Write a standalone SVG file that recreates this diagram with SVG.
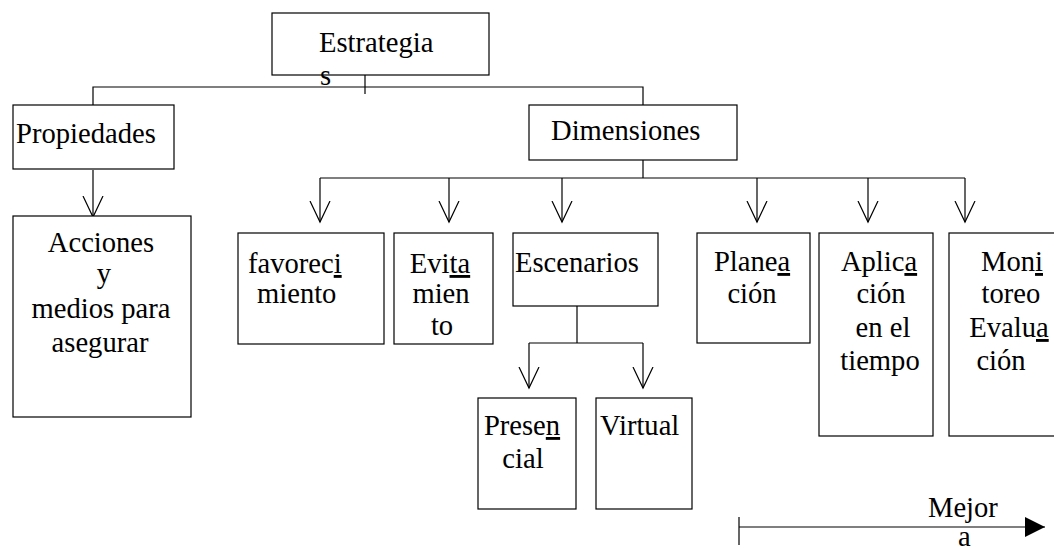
<svg xmlns="http://www.w3.org/2000/svg" width="1054" height="548" viewBox="0 0 1054 548">
<defs>
<style>
.box{fill:#fff;stroke:#000;stroke-width:1.2}
.ln{fill:none;stroke:#000;stroke-width:1.2}
text{font-family:"Liberation Serif","Times New Roman",serif;font-size:28.6px;fill:#000}
.m{text-anchor:middle}
.u{text-decoration:underline}
</style>
<marker id="v" viewBox="0 0 24 24" refX="21" refY="12" markerWidth="24" markerHeight="24" markerUnits="userSpaceOnUse" orient="auto">
<path d="M0,2 L21,12 L0,22" fill="none" stroke="#000" stroke-width="1.2"/>
</marker>
<marker id="tri" viewBox="0 0 22 22" refX="20" refY="11" markerWidth="22" markerHeight="22" markerUnits="userSpaceOnUse" orient="auto">
<path d="M0,1 L20,11 L0,21 Z" fill="#000"/>
</marker>
</defs>
<rect width="1054" height="548" fill="#fff"/>
<g id="connectors">
<path class="ln" d="M365,75 V94"/>
<path class="ln" d="M93,105 V87 H643 V105"/>
<path class="ln" d="M93,170 V217" marker-end="url(#v)"/>
<path class="ln" d="M643,160 V178"/>
<path class="ln" d="M320,178 H965"/>
<path class="ln" d="M320,178 V222" marker-end="url(#v)"/>
<path class="ln" d="M449,178 V222" marker-end="url(#v)"/>
<path class="ln" d="M562,178 V222" marker-end="url(#v)"/>
<path class="ln" d="M757,178 V222" marker-end="url(#v)"/>
<path class="ln" d="M868,178 V222" marker-end="url(#v)"/>
<path class="ln" d="M965,178 V222" marker-end="url(#v)"/>
<path class="ln" d="M577,306 V343"/>
<path class="ln" d="M529,343 H643"/>
<path class="ln" d="M529,343 V388" marker-end="url(#v)"/>
<path class="ln" d="M643,343 V388" marker-end="url(#v)"/>
<path class="ln" d="M739,517 V545"/>
<path class="ln" d="M739,527 H1045" marker-end="url(#tri)"/>
</g>
<g id="estrategias">
<rect class="box" x="272" y="13" width="217" height="62"/>
<text x="319" y="52">Estrategia</text>
<text x="320" y="85">s</text>
</g>
<g id="propiedades">
<rect class="box" x="13" y="105" width="161" height="64"/>
<text x="16" y="143">Propiedades</text>
</g>
<g id="dimensiones">
<rect class="box" x="529" y="105" width="208" height="55"/>
<text x="551" y="140">Dimensiones</text>
</g>
<g id="acciones">
<rect class="box" x="13" y="216" width="178" height="201"/>
<text class="m" x="101" y="252">Acciones</text>
<text class="m" x="104" y="283">y</text>
<text class="m" x="101" y="318">medios para</text>
<text class="m" x="100" y="352">asegurar</text>
</g>
<g id="favorecimiento">
<rect class="box" x="238" y="233" width="146" height="111"/>
<text x="248" y="273">favorec<tspan class="u">i</tspan></text>
<text x="257" y="303">miento</text>
</g>
<g id="evitamiento">
<rect class="box" x="394" y="233" width="99" height="111"/>
<text class="m" x="440" y="273">Evi<tspan class="u">ta</tspan></text>
<text class="m" x="441" y="303">mien</text>
<text class="m" x="442" y="335">to</text>
</g>
<g id="escenarios">
<rect class="box" x="513" y="233" width="145" height="73"/>
<text x="515" y="272">Escenarios</text>
</g>
<g id="planeacion">
<rect class="box" x="697" y="233" width="113" height="110"/>
<text class="m" x="752" y="271">Plane<tspan class="u">a</tspan></text>
<text class="m" x="752" y="303">ción</text>
</g>
<g id="aplicacion">
<rect class="box" x="819" y="233" width="114" height="203"/>
<text class="m" x="879" y="271">Aplic<tspan class="u">a</tspan></text>
<text class="m" x="881" y="303">ción</text>
<text class="m" x="883" y="337">en el</text>
<text class="m" x="880" y="370">tiempo</text>
</g>
<g id="monitoreo">
<rect class="box" x="949" y="233" width="120" height="203"/>
<text class="m" x="1012" y="271">Mon<tspan class="u">i</tspan></text>
<text class="m" x="1011" y="303">toreo</text>
<text class="m" x="1009" y="337">Evalu<tspan class="u">a</tspan></text>
<text class="m" x="1001" y="370">ción</text>
</g>
<g id="presencial">
<rect class="box" x="478" y="398" width="98" height="111"/>
<text class="m" x="522" y="435">Prese<tspan class="u">n</tspan></text>
<text class="m" x="523" y="468">cial</text>
</g>
<g id="virtual">
<rect class="box" x="596" y="398" width="96" height="111"/>
<text x="600" y="435">Virtual</text>
</g>
<g id="mejora">
<text x="928" y="517">Mejor</text>
<text x="958" y="546">a</text>
</g>
</svg>
